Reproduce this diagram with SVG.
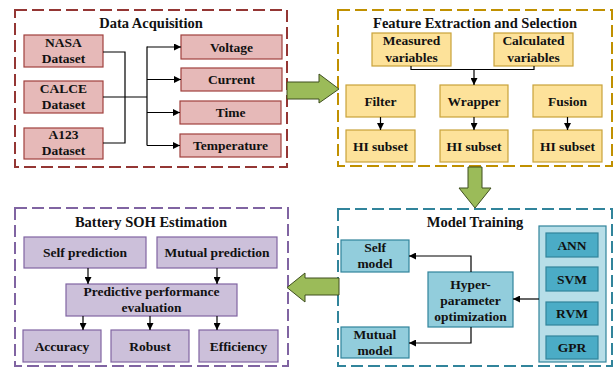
<svg xmlns="http://www.w3.org/2000/svg" width="613" height="369" viewBox="0 0 613 369">
  <defs>
    <marker id="arr" viewBox="0 0 10 10" refX="10" refY="5" markerWidth="7" markerHeight="7" markerUnits="userSpaceOnUse" orient="auto">
      <path d="M0,0 L10,5 L0,10 z" fill="#000"/>
    </marker>
    <style>
      text { font-family: "Liberation Serif", "Times New Roman", serif; font-weight: bold; text-anchor: middle; fill: #111; }
      .t { font-size: 14.5px; }
      .b { font-size: 13.5px; }
      .frame { fill: none; stroke-width: 2; stroke-dasharray: 12 5; }
      .red { fill: #e6b9b8; stroke: #a0403d; stroke-width: 1.2; }
      .yel { fill: #fde29a; stroke: #c9a23a; stroke-width: 1.2; }
      .pur { fill: #ccc0da; stroke: #8064a2; stroke-width: 1.2; }
      .lblue { fill: #92cddc; stroke: #31849b; stroke-width: 1.2; }
      .panel { fill: #b7dee8; stroke: #31849b; stroke-width: 1.2; }
      .dblue { fill: #4bacc6; stroke: #31849b; stroke-width: 1.2; }
      .con { fill: none; stroke: #000; stroke-width: 1.2; }
      .big { fill: #9bbb59; stroke: #3f4f1f; stroke-width: 1; }
    </style>
  </defs>

  <!-- Stage frames -->
  <rect class="frame" x="15" y="10" width="272" height="157" stroke="#943634"/>
  <rect class="frame" x="338" y="10" width="274" height="156" stroke="#c09000"/>
  <rect class="frame" x="15" y="208" width="273" height="158" stroke="#8064a2"/>
  <rect class="frame" x="338" y="209" width="274" height="157" stroke="#31849b"/>

  <text class="t" x="151" y="28">Data Acquisition</text>
  <text class="t" x="475" y="28">Feature Extraction and Selection</text>
  <text class="t" x="151" y="227">Battery SOH Estimation</text>
  <text class="t" x="475" y="227">Model Training</text>

  <!-- Data acquisition nodes -->
  <g id="nasa"><rect class="red" x="24" y="35" width="79" height="32"/><text class="b" x="63.5" y="47">NASA</text><text class="b" x="63.5" y="63">Dataset</text></g>
  <g id="calce"><rect class="red" x="24" y="81" width="79" height="32"/><text class="b" x="63.5" y="93">CALCE</text><text class="b" x="63.5" y="109">Dataset</text></g>
  <g id="a123"><rect class="red" x="24" y="128" width="79" height="31"/><text class="b" x="63.5" y="139">A123</text><text class="b" x="63.5" y="155">Dataset</text></g>
  <g id="voltage"><rect class="red" x="181" y="35" width="101" height="24"/><text class="b" x="231.5" y="51.5">Voltage</text></g>
  <g id="current"><rect class="red" x="181" y="68" width="101" height="23"/><text class="b" x="231.5" y="84">Current</text></g>
  <g id="time"><rect class="red" x="180" y="101" width="101" height="23"/><text class="b" x="230.5" y="117">Time</text></g>
  <g id="temperature"><rect class="red" x="180" y="134" width="101" height="23"/><text class="b" x="230.5" y="150">Temperature</text></g>

  <!-- Feature extraction nodes -->
  <g id="measured"><rect class="yel" x="372" y="33" width="79" height="33"/><text class="b" x="411.5" y="45">Measured</text><text class="b" x="411.5" y="61.5">variables</text></g>
  <g id="calculated"><rect class="yel" x="494" y="33" width="79" height="33"/><text class="b" x="533.5" y="45">Calculated</text><text class="b" x="533.5" y="61.5">variables</text></g>
  <g id="filter"><rect class="yel" x="346" y="85" width="69" height="32"/><text class="b" x="380.5" y="105.5">Filter</text></g>
  <g id="wrapper"><rect class="yel" x="440" y="85" width="68" height="32"/><text class="b" x="474" y="105.5">Wrapper</text></g>
  <g id="fusion"><rect class="yel" x="533" y="85" width="69" height="32"/><text class="b" x="567.5" y="105.5">Fusion</text></g>
  <g id="hi1"><rect class="yel" x="346" y="130" width="69" height="32"/><text class="b" x="380.5" y="150.5">HI subset</text></g>
  <g id="hi2"><rect class="yel" x="440" y="130" width="68" height="32"/><text class="b" x="474" y="150.5">HI subset</text></g>
  <g id="hi3"><rect class="yel" x="533" y="130" width="69" height="32"/><text class="b" x="567.5" y="150.5">HI subset</text></g>

  <!-- SOH estimation nodes -->
  <g id="selfpred"><rect class="pur" x="24" y="237" width="122" height="31"/><text class="b" x="85" y="257">Self prediction</text></g>
  <g id="mutualpred"><rect class="pur" x="157" y="237" width="120" height="31"/><text class="b" x="217" y="257">Mutual prediction</text></g>
  <g id="evaluation"><rect class="pur" x="66" y="284" width="171" height="32"/><text class="b" x="151.5" y="296">Predictive performance</text><text class="b" x="151.5" y="312">evaluation</text></g>
  <g id="accuracy"><rect class="pur" x="23" y="330" width="78" height="32"/><text class="b" x="62" y="350.5">Accuracy</text></g>
  <g id="robust"><rect class="pur" x="111" y="330" width="78" height="32"/><text class="b" x="150" y="350.5">Robust</text></g>
  <g id="efficiency"><rect class="pur" x="199" y="330" width="79" height="32"/><text class="b" x="238.5" y="350.5">Efficiency</text></g>

  <!-- Model training nodes -->
  <g id="selfmodel"><rect class="lblue" x="341" y="240" width="68" height="32"/><text class="b" x="375" y="252">Self</text><text class="b" x="375" y="268">model</text></g>
  <g id="mutualmodel"><rect class="lblue" x="341" y="327" width="68" height="31"/><text class="b" x="375" y="339">Mutual</text><text class="b" x="375" y="355">model</text></g>
  <g id="hyper"><rect class="lblue" x="428" y="272" width="85" height="55"/><text class="b" x="470.5" y="288.5">Hyper-</text><text class="b" x="470.5" y="304.5">parameter</text><text class="b" x="470.5" y="320.5">optimization</text></g>
  <g id="models">
    <rect class="panel" x="539" y="226" width="67" height="136"/>
    <rect class="dblue" x="546" y="233" width="52" height="24"/><text class="b" x="572" y="249.5">ANN</text>
    <rect class="dblue" x="546" y="267" width="52" height="24"/><text class="b" x="572" y="283.5">SVM</text>
    <rect class="dblue" x="546" y="302" width="52" height="23"/><text class="b" x="572" y="318">RVM</text>
    <rect class="dblue" x="546" y="336" width="52" height="23"/><text class="b" x="572" y="352">GPR</text>
  </g>

  <!-- Connectors -->
  <g id="connectors">
    <path class="con" d="M103,52 H125 V143 H103"/>
    <path class="con" d="M103,97 H147"/>
    <path class="con" d="M147,46.5 V145.5"/>
    <path class="con" d="M147,47 H181" marker-end="url(#arr)"/>
    <path class="con" d="M147,79.5 H181" marker-end="url(#arr)"/>
    <path class="con" d="M147,112.5 H180" marker-end="url(#arr)"/>
    <path class="con" d="M147,145.5 H180" marker-end="url(#arr)"/>

    <path class="con" d="M411,66 V69.5 H534 V66"/>
    <path class="con" d="M474,69.5 V85" marker-end="url(#arr)"/>
    <path class="con" d="M380.5,117 V130" marker-end="url(#arr)"/>
    <path class="con" d="M474,117 V130" marker-end="url(#arr)"/>
    <path class="con" d="M567.5,117 V130" marker-end="url(#arr)"/>

    <path class="con" d="M88,268 V284" marker-end="url(#arr)"/>
    <path class="con" d="M217,268 V284" marker-end="url(#arr)"/>
    <path class="con" d="M83,316 V330" marker-end="url(#arr)"/>
    <path class="con" d="M150,316 V330" marker-end="url(#arr)"/>
    <path class="con" d="M217,316 V330" marker-end="url(#arr)"/>

    <path class="con" d="M471,272 V256 H409" marker-end="url(#arr)"/>
    <path class="con" d="M471,327 V343 H409" marker-end="url(#arr)"/>
    <path class="con" d="M539,299 H513" marker-end="url(#arr)"/>

    <!-- stage-to-stage block arrows -->
    <path class="big" d="M287,82 H319 V74 L339,89 L319,103 V99 H287 Z"/>
    <path class="big" d="M468,167 H482 V188 H491 L475,208 L459,188 H468 Z"/>
    <path class="big" d="M339,278 H305 V273 L287,287.5 L305,302 V295 H339 Z"/>
  </g>
</svg>
